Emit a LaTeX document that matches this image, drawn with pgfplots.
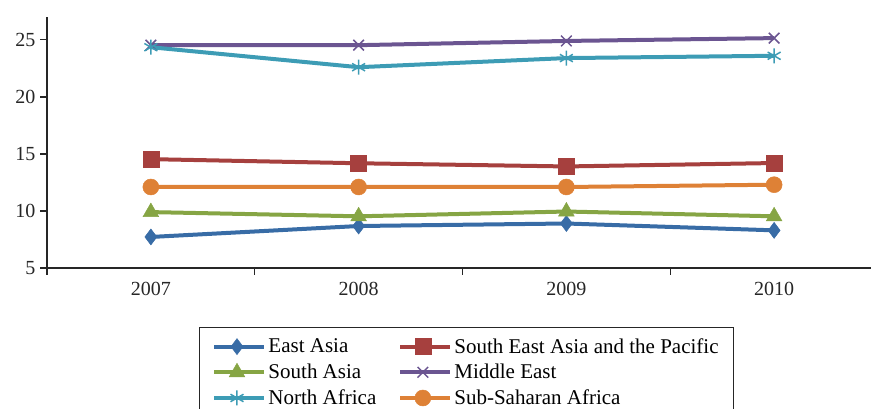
\documentclass[border=0pt]{standalone}
\usepackage{fontspec}
\setmainfont{Liberation Serif}
\usepackage{pgfplots}
\pgfplotsset{compat=1.18}

\definecolor{cEast}{HTML}{386CA6}
\definecolor{cSEA}{HTML}{A6403E}
\definecolor{cSouth}{HTML}{86A544}
\definecolor{cMid}{HTML}{6B5591}
\definecolor{cNorth}{HTML}{3D9CB5}
\definecolor{cSub}{HTML}{DE8136}

\begin{document}
\begin{tikzpicture}
\begin{axis}[
    at={(47pt,141pt)}, anchor=south west,
    scale only axis,
    width=831pt, height=251pt,
    xmin=2006.5, xmax=2010.5,
    ymin=5, ymax=27,
    axis lines=left,
    axis line style={-, line width=1.3pt, black!85},
    xtick={2007,2008,2009,2010},
    xticklabels={2007,2008,2009,2010},
    minor xtick={2006.5,2007.5,2008.5,2009.5},
    ytick={5,10,15,20,25},
    tick align=outside,
    major tick length=7pt,
    minor tick length=7pt,
    x tick style={draw=none},
    minor x tick style={draw=black!85, line width=1.3pt},
    y tick style={black!85, line width=1.3pt},
    tick label style={font=\fontsize{20}{24}\selectfont, text=black!85},
    /pgf/number format/assume math mode=true,
    /pgf/number format/1000 sep={},
    xticklabel style={yshift=-4pt},
    yticklabel style={xshift=-1pt},
    every axis plot/.append style={line width=4pt},
    legend columns=2,
    legend cell align=left,
    legend style={
        at={(axis description cs:0.1829,-0.235)}, anchor=north west,
        font=\fontsize{21}{25}\selectfont,
        draw=black!85, line width=1pt,
        inner xsep=13pt, inner ysep=9pt,
        row sep=5.5pt,
        /tikz/every even column/.append style={column sep=20pt},
    },
    legend image code/.code={
        \path (0pt,0pt) -- (50pt,0pt);
        \draw[#1, mark=none] (0pt,0pt) -- (45pt,0pt);
        \draw[#1, line width=1.5pt] plot coordinates {(22.5pt,0pt)};
    },
]
% East Asia
\addplot[color=cEast, mark=diamond*, mark size=8pt, mark options={solid, line width=0.5pt}] coordinates {
    (2007,7.72) (2008,8.68) (2009,8.9) (2010,8.3)
};
\addlegendentry{East Asia}
% South East Asia and the Pacific
\addplot[color=cSEA, mark=square*, mark size=8pt, mark options={solid, line width=0.5pt}] coordinates {
    (2007,14.54) (2008,14.18) (2009,13.9) (2010,14.2)
};
\addlegendentry{South East Asia and the Pacific}
% South Asia
\addplot[color=cSouth, mark=triangle*, mark size=9pt, mark options={solid, line width=0.5pt}] coordinates {
    (2007,9.9) (2008,9.53) (2009,9.95) (2010,9.53)
};
\addlegendentry{South Asia}
% Middle East
\addplot[color=cMid, mark=x, mark size=7.5pt, mark options={solid, line width=1.5pt}] coordinates {
    (2007,24.53) (2008,24.53) (2009,24.9) (2010,25.15)
};
\addlegendentry{Middle East}
% North Africa
\addplot[color=cNorth, mark=asterisk, mark size=7.5pt, mark options={solid, line width=1.5pt}] coordinates {
    (2007,24.35) (2008,22.6) (2009,23.4) (2010,23.6)
};
\addlegendentry{North Africa}
% Sub-Saharan Africa
\addplot[color=cSub, mark=*, mark size=8pt, mark options={solid, line width=0.5pt}] coordinates {
    (2007,12.1) (2008,12.1) (2009,12.1) (2010,12.3)
};
\addlegendentry{Sub-Saharan Africa}
\end{axis}
\pgfresetboundingbox
\path[use as bounding box] (0pt,0pt) rectangle (871pt,409pt);
\end{tikzpicture}
\end{document}
